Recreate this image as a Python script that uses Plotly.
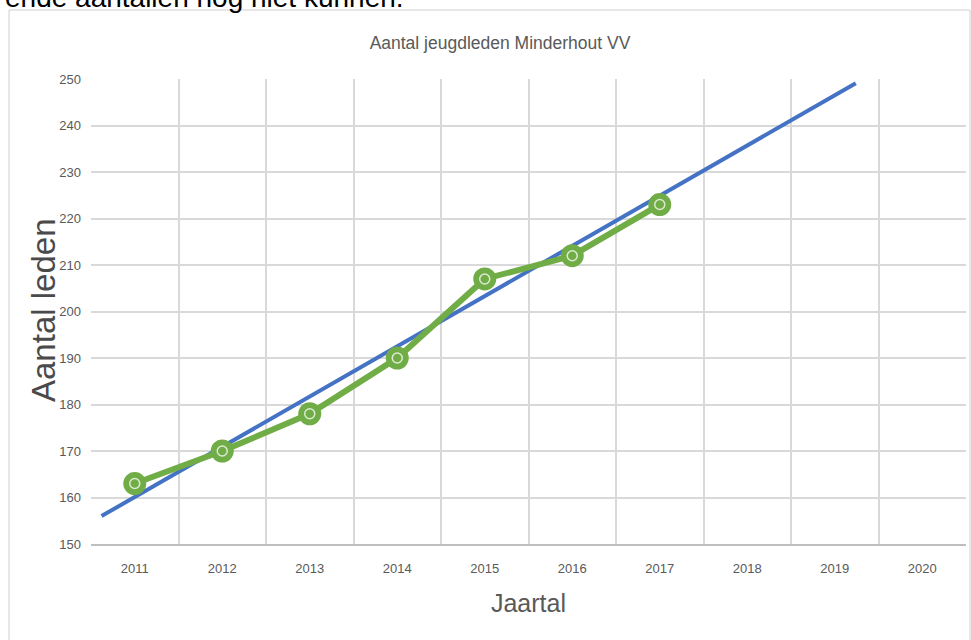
import plotly.graph_objects as go

# ---- data ----
years = [2011, 2012, 2013, 2014, 2015, 2016, 2017]
members = [163, 170, 178, 190, 207, 212, 223]
tick_years = [2011, 2012, 2013, 2014, 2015, 2016, 2017, 2018, 2019, 2020]
trend_x = [2010.62, 2019.24]
trend_y = [156.0, 249.1]
y_ticks = [150, 160, 170, 180, 190, 200, 210, 220, 230, 240, 250]

W, H = 971, 640
L, R, T, B = 91, 5, 79, 96
pw, ph = W - L - R, H - T - B

def px(x):
    return (x - L) / pw

def py(y):
    return (H - B - y) / ph

font_main = "Liberation Sans, Arial, sans-serif"
gray = "#595959"

fig = go.Figure()

fig.add_trace(go.Scatter(
    x=trend_x, y=trend_y, mode="lines",
    line=dict(color="#4472C4", width=4),
    hoverinfo="skip", showlegend=False,
))
fig.add_trace(go.Scatter(
    x=years, y=members, mode="lines+markers",
    line=dict(color="#70AD47", width=6),
    marker=dict(symbol="circle", size=23, color="#70AD47"),
    showlegend=False,
))
fig.add_trace(go.Scatter(
    x=years, y=members, mode="markers",
    marker=dict(symbol="circle-open", size=10, color="rgba(255,255,255,0.75)",
                line=dict(width=1.5, color="rgba(255,255,255,0.75)")),
    hoverinfo="skip", showlegend=False,
))

fig.update_layout(
    width=W, height=H,
    margin=dict(l=L, r=R, t=T, b=B, autoexpand=False),
    paper_bgcolor="white", plot_bgcolor="white",
    title=dict(text="Aantal jeugdleden Minderhout VV",
               x=500 / W, xanchor="center", y=1 - 43 / H, yanchor="middle",
               font=dict(family=font_main, size=17.5, color=gray)),
    xaxis=dict(
        range=[2010.5, 2020.5], automargin=False,
        tickmode="array", tickvals=tick_years, ticktext=[str(v) for v in tick_years],
        showgrid=False, zeroline=False,
        showline=True, linecolor="#bfbfbf", linewidth=1.5,
        ticks="", ticklabelstandoff=12,
        tickfont=dict(family=font_main, size=13, color=gray),
        minor=dict(tickmode="array",
                   tickvals=[v - 0.5 for v in tick_years] + [tick_years[-1] + 0.5],
                   showgrid=True, gridcolor="#d9d9d9", gridwidth=1.5, ticks=""),
        title=dict(text="Jaartal", standoff=19,
                   font=dict(family=font_main, size=25, color=gray)),
    ),
    yaxis=dict(
        range=[150, 250], automargin=False,
        tickmode="array", tickvals=y_ticks,
        showgrid=True, gridcolor="#d9d9d9", gridwidth=1.5,
        zeroline=False, showline=False, ticks="",
        ticklabelstandoff=9,
        tickfont=dict(family=font_main, size=13, color=gray),
    ),
    shapes=[dict(type="rect", xref="paper", yref="paper",
                 x0=px(9), x1=px(970), y0=py(650), y1=py(10),
                 line=dict(color="#d0d0d0", width=1), fillcolor="rgba(0,0,0,0)",
                 layer="below")],
    annotations=[
        dict(text="ende aantallen nog niet kunnen.", xref="paper", yref="paper",
             x=px(3), y=py(15), xanchor="left", yanchor="bottom",
             showarrow=False,
             font=dict(family=font_main, size=28, color="black")),
        dict(text="Aantal leden", xref="paper", yref="paper",
             x=px(43), y=py(311), xanchor="center", yanchor="middle",
             textangle=-90, showarrow=False,
             font=dict(family=font_main, size=33, color="#4a4a4a")),
    ],
)

fig.write_html("out.html", config={"displayModeBar": False},
               post_script="document.body.style.margin='0';")
